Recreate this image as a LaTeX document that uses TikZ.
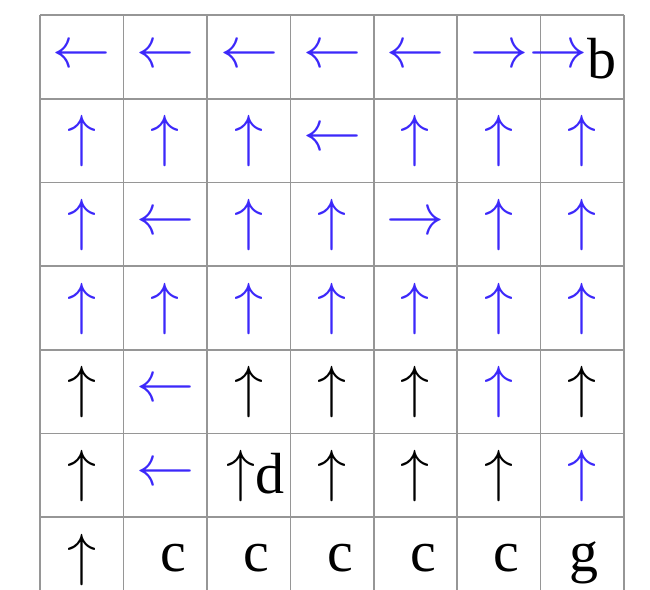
\documentclass[tikz,border=0pt]{standalone}
\usepackage{fix-cm}
\usepackage{fontspec}
\setmainfont{Liberation Serif}
\definecolor{ablue}{RGB}{60,40,250}
\definecolor{gridgray}{RGB}{150,150,150}
\newcommand{\AL}{$\leftarrow$}
\newcommand{\AR}{$\rightarrow$}
\newcommand{\AU}{$\uparrow$}
\begin{document}
\begin{tikzpicture}[x=1pt,y=-1pt,
  cell/.style={inner sep=0pt,anchor=base,font=\fontsize{58}{62}\selectfont},
  blu/.style={cell,text=ablue},
  blk/.style={cell,text=black},
  gridline/.style={draw=gridgray,line width=1.6pt}]
\useasboundingbox (0,0) rectangle (650,589);
% grid
\foreach \x in {40,123.4,206.9,290.3,373.7,457.1,540.6,624}
  \draw[gridline] (\x,15) -- (\x,600);
\foreach \y in {15,98.7,182.4,266.1,349.8,433.5,517.2}
  \draw[gridline] (40,\y) -- (624,\y);
% row 0 (horizontal arrows: baseline 67.2)
\node[blu] (c00) at (81.7,67.2) {\AL};
\node[blu] (c01) at (165.6,67.2) {\AL};
\node[blu] (c02) at (249.1,67.2) {\AL};
\node[blu] (c03) at (332.5,67.2) {\AL};
\node[blu] (c04) at (415.9,67.2) {\AL};
\node[blu] (c05) at (499.4,67.2) {\AR};
\node[blk,anchor=base west] (c06) at (528.8,78) {\raisebox{10.2pt}{\color{ablue}\AR}b};
% row 1 (up baseline 155.9, horizontal 150.9)
\node[blu] (c10) at (81.7,155.9) {\AU};
\node[blu] (c11) at (165.1,155.9) {\AU};
\node[blu] (c12) at (248.6,155.9) {\AU};
\node[blu] (c13) at (332.5,150.9) {\AL};
\node[blu] (c14) at (415.4,155.9) {\AU};
\node[blu] (c15) at (498.9,155.9) {\AU};
\node[blu] (c16) at (582.3,155.9) {\AU};
% row 2 (up 239.6, horizontal 234.6)
\node[blu] (c20) at (81.7,239.6) {\AU};
\node[blu] (c21) at (165.6,234.6) {\AL};
\node[blu] (c22) at (248.6,239.6) {\AU};
\node[blu] (c23) at (332.0,239.6) {\AU};
\node[blu] (c24) at (415.9,234.6) {\AR};
\node[blu] (c25) at (498.9,239.6) {\AU};
\node[blu] (c26) at (582.3,239.6) {\AU};
% row 3 (up 323.3)
\node[blu] (c30) at (81.7,323.3) {\AU};
\node[blu] (c31) at (165.1,323.3) {\AU};
\node[blu] (c32) at (248.6,323.3) {\AU};
\node[blu] (c33) at (332.0,323.3) {\AU};
\node[blu] (c34) at (415.4,323.3) {\AU};
\node[blu] (c35) at (498.9,323.3) {\AU};
\node[blu] (c36) at (582.3,323.3) {\AU};
% row 4 (up 406.9, horizontal 401.9)
\node[blk] (c40) at (81.7,406.9) {\AU};
\node[blu] (c41) at (165.6,401.9) {\AL};
\node[blk] (c42) at (248.6,406.9) {\AU};
\node[blk] (c43) at (332.0,406.9) {\AU};
\node[blk] (c44) at (415.4,406.9) {\AU};
\node[blu] (c45) at (498.9,406.9) {\AU};
\node[blk] (c46) at (582.3,406.9) {\AU};
% row 5 (up 490.6, horizontal 485.6)
\node[blk] (c50) at (81.7,490.6) {\AU};
\node[blu] (c51) at (165.6,485.6) {\AL};
\node[blk,anchor=base west] (c52) at (226,493) {\raisebox{2.5pt}{\AU}d};
\node[blk] (c53) at (332.0,490.6) {\AU};
\node[blk] (c54) at (415.4,490.6) {\AU};
\node[blk] (c55) at (498.9,490.6) {\AU};
\node[blu] (c56) at (582.3,490.6) {\AU};
% row 6
\node[blk] (c60) at (81.7,574.3) {\AU};
\node[blk] (c61) at (173,571) {c};
\node[blk] (c62) at (256.5,571) {c};
\node[blk] (c63) at (339.9,571) {c};
\node[blk] (c64) at (423.3,571) {c};
\node[blk] (c65) at (506.8,571) {c};
\node[blk] (c66) at (583.5,571) {g};
\end{tikzpicture}
\end{document}
